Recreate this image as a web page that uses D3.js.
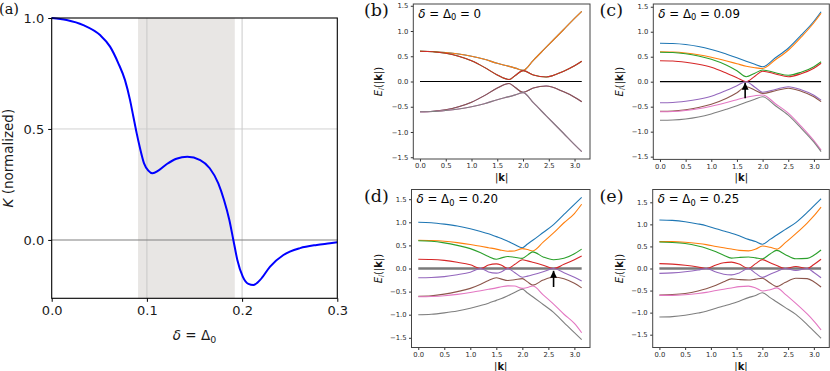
<!DOCTYPE html>
<html>
<head>
<meta charset="utf-8">
<script src="https://cdn.jsdelivr.net/npm/d3@7"></script>
<style>
  body { margin: 0; background: #fff; }
  svg { display: block; font-family: "DejaVu Sans", sans-serif; }
</style>
</head>
<body>
<svg id="fig" width="830" height="371"></svg>
<script>
// ---- (a) K(delta), normalized
const deltaA = [0, 0.0157, 0.0332, 0.0508, 0.0613, 0.070, 0.077, 0.0823, 0.0858, 0.0893, 0.0928, 0.097,
  0.1015, 0.106, 0.112, 0.121, 0.131, 0.1425, 0.156, 0.166, 0.175, 0.181, 0.1866, 0.1908, 0.195,
  0.2007, 0.2066, 0.2119, 0.219, 0.2294, 0.2434, 0.2609, 0.2785, 0.2924, 0.3];
const kappaA = [1.0, 0.991, 0.968, 0.923, 0.871, 0.796, 0.72, 0.63, 0.555, 0.48, 0.413, 0.345,
  0.312, 0.30, 0.312, 0.342, 0.366, 0.375, 0.36, 0.323, 0.255, 0.18, 0.09, 0.0, -0.09,
  -0.165, -0.198, -0.203, -0.18, -0.12, -0.068, -0.037, -0.0225, -0.015, -0.0105];
const shadeA = [0.0907, 0.1923];

// ---- band energies E_i(|k|), bands listed from top (blue) to bottom (grey)
// (b) delta = 0 : bands are pairwise degenerate
const kB = [0, 0.25, 0.5, 0.75, 1.0, 1.25, 1.5, 1.73, 1.85, 2.0, 2.2, 2.45, 2.78, 3.0, 3.14];
const bUp1 = [0.60, 0.595, 0.575, 0.545, 0.50, 0.44, 0.36, 0.30, 0.265, 0.22, 0.42, 0.68, 1.02, 1.25, 1.39];
const bUp2 = [0.60, 0.59, 0.56, 0.50, 0.41, 0.28, 0.13, 0.04, 0.12, 0.215, 0.13, 0.09, 0.20, 0.31, 0.40];
const bLo2 = [-0.60, -0.59, -0.56, -0.50, -0.41, -0.28, -0.13, -0.04, -0.12, -0.215, -0.13, -0.09, -0.20, -0.31, -0.40];
const bLo1 = [-0.60, -0.595, -0.575, -0.545, -0.50, -0.44, -0.36, -0.30, -0.265, -0.22, -0.42, -0.68, -1.02, -1.25, -1.39];

// (c) delta = 0.09
const kC = [0, 0.25, 0.5, 0.75, 1.0, 1.3, 1.5, 1.68, 1.85, 2.0, 2.25, 2.5, 2.75, 3.0, 3.14];
const cBlue   = [0.77, 0.765, 0.745, 0.705, 0.645, 0.55, 0.48, 0.41, 0.35, 0.30, 0.48, 0.67, 0.93, 1.21, 1.40];
const cOrange = [0.60, 0.595, 0.575, 0.54, 0.49, 0.415, 0.36, 0.31, 0.28, 0.265, 0.44, 0.63, 0.89, 1.18, 1.37];
const cGreen  = [0.59, 0.585, 0.56, 0.515, 0.45, 0.33, 0.22, 0.10, 0.17, 0.235, 0.18, 0.13, 0.19, 0.30, 0.40];
const cRed    = [0.42, 0.415, 0.39, 0.35, 0.29, 0.17, 0.08, 0.0, 0.11, 0.21, 0.155, 0.10, 0.16, 0.27, 0.37];
const cPurple = [-0.42, -0.415, -0.39, -0.35, -0.29, -0.17, -0.08, 0.0, -0.11, -0.21, -0.155, -0.10, -0.16, -0.27, -0.37];
const cBrown  = [-0.59, -0.585, -0.56, -0.515, -0.45, -0.33, -0.22, -0.10, -0.17, -0.235, -0.18, -0.13, -0.19, -0.30, -0.40];
const cPink   = [-0.60, -0.595, -0.575, -0.54, -0.49, -0.415, -0.36, -0.31, -0.28, -0.265, -0.44, -0.63, -0.89, -1.18, -1.37];
const cGrey   = [-0.77, -0.765, -0.745, -0.705, -0.645, -0.55, -0.48, -0.41, -0.35, -0.30, -0.48, -0.67, -0.93, -1.21, -1.40];

// (d) delta = 0.20
const kD = [0, 0.25, 0.5, 0.75, 1.0, 1.2, 1.35, 1.5, 1.6, 1.72, 1.85, 2.0, 2.1, 2.2, 2.4, 2.6, 2.8, 3.0, 3.14];
const dBlue   = [1.00, 0.99, 0.96, 0.92, 0.86, 0.80, 0.75, 0.69, 0.65, 0.59, 0.52, 0.45, 0.53, 0.61, 0.78, 0.95, 1.17, 1.39, 1.54];
const dOrange = [0.61, 0.605, 0.59, 0.56, 0.52, 0.48, 0.45, 0.42, 0.395, 0.375, 0.38, 0.43, 0.41, 0.38, 0.57, 0.77, 0.99, 1.19, 1.39];
const dGreen  = [0.60, 0.59, 0.555, 0.50, 0.43, 0.34, 0.26, 0.20, 0.23, 0.26, 0.245, 0.22, 0.29, 0.36, 0.25, 0.19, 0.22, 0.32, 0.42];
const dRed    = [0.20, 0.195, 0.175, 0.135, 0.08, 0.0, 0.075, 0.10, 0.07, 0.0, 0.085, 0.19, 0.165, 0.135, 0.07, 0.0, 0.09, 0.19, 0.27];
const dPurple = [-0.20, -0.195, -0.175, -0.135, -0.08, 0.0, -0.075, -0.10, -0.07, 0.0, -0.085, -0.19, -0.165, -0.135, -0.07, 0.0, -0.09, -0.19, -0.27];
const dBrown  = [-0.60, -0.59, -0.555, -0.50, -0.43, -0.34, -0.26, -0.20, -0.23, -0.26, -0.245, -0.22, -0.29, -0.36, -0.25, -0.19, -0.22, -0.32, -0.42];
const dPink   = [-0.61, -0.605, -0.59, -0.56, -0.52, -0.48, -0.45, -0.42, -0.395, -0.375, -0.38, -0.43, -0.41, -0.38, -0.57, -0.77, -0.99, -1.19, -1.39];
const dGrey   = [-1.00, -0.99, -0.96, -0.92, -0.86, -0.80, -0.75, -0.69, -0.65, -0.59, -0.52, -0.45, -0.53, -0.61, -0.78, -0.95, -1.17, -1.39, -1.54];

// (e) delta = 0.25
const kE = [0, 0.25, 0.5, 0.75, 0.91, 1.1, 1.25, 1.4, 1.55, 1.73, 1.87, 2.0, 2.15, 2.28, 2.44, 2.65, 2.87, 3.0, 3.14];
const eBlue   = [1.10, 1.09, 1.06, 1.01, 0.97, 0.90, 0.85, 0.80, 0.74, 0.66, 0.61, 0.55, 0.66, 0.76, 0.88, 1.04, 1.27, 1.42, 1.58];
const eOrange = [0.61, 0.61, 0.595, 0.565, 0.54, 0.50, 0.47, 0.44, 0.41, 0.40, 0.44, 0.51, 0.48, 0.44, 0.58, 0.79, 1.03, 1.19, 1.39];
const eGreen  = [0.60, 0.59, 0.565, 0.51, 0.46, 0.38, 0.30, 0.235, 0.25, 0.26, 0.24, 0.22, 0.33, 0.41, 0.32, 0.22, 0.23, 0.30, 0.42];
const eRed    = [0.11, 0.10, 0.075, 0.035, 0.0, 0.08, 0.13, 0.145, 0.10, 0.0, 0.11, 0.20, 0.13, 0.07, 0.0, 0.045, 0.0, 0.09, 0.21];
const ePurple = [-0.11, -0.10, -0.075, -0.035, 0.0, -0.08, -0.13, -0.145, -0.10, 0.0, -0.11, -0.20, -0.13, -0.07, 0.0, -0.045, 0.0, -0.09, -0.21];
const eBrown  = [-0.60, -0.59, -0.565, -0.51, -0.46, -0.38, -0.30, -0.235, -0.25, -0.26, -0.24, -0.22, -0.33, -0.41, -0.32, -0.22, -0.23, -0.30, -0.42];
const ePink   = [-0.61, -0.61, -0.595, -0.565, -0.54, -0.50, -0.47, -0.44, -0.41, -0.40, -0.44, -0.51, -0.48, -0.44, -0.58, -0.79, -1.03, -1.19, -1.39];
const eGrey   = [-1.10, -1.09, -1.06, -1.01, -0.97, -0.90, -0.85, -0.80, -0.74, -0.66, -0.61, -0.55, -0.66, -0.76, -0.88, -1.04, -1.27, -1.42, -1.58];

const kTicks = [0, 0.5, 1.0, 1.5, 2.0, 2.5, 3.0];
const eTicks = [-1.5, -1.0, -0.5, 0, 0.5, 1.0, 1.5];
const titles = ['0', '0.09', '0.20', '0.25'];
const arrowC = [1.66, -0.33, -0.02];
const arrowD = [2.6, -0.40, -0.05];

const tab10 = ['#1f77b4', '#ff7f0e', '#2ca02c', '#d62728', '#9467bd', '#8c564b', '#e377c2', '#7f7f7f'];
const svg = d3.select('#fig');

svg.append('defs').append('marker')
  .attr('id', 'head')
  .attr('viewBox', '0 0 10 10')
  .attr('refX', 10).attr('refY', 5)
  .attr('markerUnits', 'userSpaceOnUse')
  .attr('markerWidth', 7).attr('markerHeight', 7)
  .attr('orient', 'auto')
  .append('path')
  .attr('d', 'M0,0 L10,5 L0,10 Z')
  .attr('fill', '#000');

// writes a run of styled pieces into a text node
function mathText(sel, parts, size) {
  parts.forEach(p => {
    const ts = sel.append('tspan').text(p.t);
    if (p.it) ts.attr('font-style', 'italic');
    if (p.bf) ts.attr('font-weight', 'bold');
    if (p.sub) ts.attr('font-size', size * 0.7).attr('dy', size * 0.22);
    if (p.up) ts.attr('dy', -size * 0.22);
  });
}

// ================= panel (a)
const ax = d3.scaleLinear().domain([0, 0.3]).range([51.7, 337.3]);
const ay = d3.scaleLinear().domain([-0.263, 1.0]).range([298.3, 18]);
const ga = svg.append('g');

ga.append('rect')
  .attr('x', ax(shadeA[0])).attr('y', ay(1.0))
  .attr('width', ax(shadeA[1]) - ax(shadeA[0]))
  .attr('height', ay(-0.263) - ay(1.0))
  .attr('fill', '#e8e6e4');

ga.selectAll('.vgrid').data([0.1, 0.2]).enter().append('line')
  .attr('x1', d => ax(d)).attr('x2', d => ax(d))
  .attr('y1', ay(1.0)).attr('y2', ay(-0.263))
  .attr('stroke', '#c4c4c4').attr('stroke-width', 0.9);
ga.append('line')
  .attr('x1', ax(0)).attr('x2', ax(0.3)).attr('y1', ay(0.5)).attr('y2', ay(0.5))
  .attr('stroke', '#cccccc').attr('stroke-width', 0.9);
ga.append('line')
  .attr('x1', ax(0)).attr('x2', ax(0.3)).attr('y1', ay(0)).attr('y2', ay(0))
  .attr('stroke', '#808080').attr('stroke-width', 1.1);

ga.append('path')
  .datum(deltaA.map((d, i) => [d, kappaA[i]]))
  .attr('fill', 'none')
  .attr('stroke', '#0000ff')
  .attr('stroke-width', 2)
  .attr('d', d3.line().x(d => ax(d[0])).y(d => ay(d[1])).curve(d3.curveMonotoneX));

const axA = ga.append('g')
  .attr('transform', 'translate(0,' + ay(-0.263) + ')')
  .call(d3.axisBottom(ax).tickValues([0, 0.1, 0.2, 0.3]).tickFormat(d3.format('.1f')).tickSize(3.5).tickPadding(4));
const ayA = ga.append('g')
  .attr('transform', 'translate(' + ax(0) + ',0)')
  .call(d3.axisLeft(ay).tickValues([0, 0.5, 1.0]).tickFormat(d3.format('.1f')).tickSize(3.5).tickPadding(4));
[axA, ayA].forEach(s => {
  s.select('.domain').remove();
  s.selectAll('text').attr('font-family', '"DejaVu Sans"').attr('font-size', 13).attr('fill', '#1a1a1a');
  s.selectAll('line').attr('stroke', '#000');
});

ga.append('rect')
  .attr('x', ax(0)).attr('y', ay(1.0))
  .attr('width', ax(0.3) - ax(0)).attr('height', ay(-0.263) - ay(1.0))
  .attr('fill', 'none').attr('stroke', '#000').attr('stroke-width', 1.1);

const ylabA = ga.append('text')
  .attr('transform', 'translate(12.5,' + ((ay(1.0) + ay(-0.263)) / 2) + ') rotate(-90)')
  .attr('text-anchor', 'middle').attr('font-size', 13.5).attr('fill', '#1a1a1a');
mathText(ylabA, [{ t: 'K', it: true }, { t: ' (normalized)' }], 13.5);

const xlabA = ga.append('text')
  .attr('x', (ax(0) + ax(0.3)) / 2).attr('y', 340)
  .attr('text-anchor', 'middle').attr('font-size', 13.5).attr('fill', '#1a1a1a');
mathText(xlabA, [{ t: 'δ', it: true }, { t: ' = Δ' }, { t: '0', sub: true }], 13.5);

svg.append('text').attr('x', -1).attr('y', 14)
  .attr('font-family', '"DejaVu Serif", serif').attr('font-size', 14.5).attr('fill', '#111')
  .text('(a)');

// ================= panels (b)-(e)
const panels = [
  { tag: '(b)', box: [413.3, 590, 4, 159], ymax: 1.535, k: kB,
    bands: [bUp1, bUp1, bUp2, bUp2, bLo2, bLo2, bLo1, bLo1], title: titles[0], thickZero: false,
    lab: [364, 15.5], ylx: 381.5 },
  { tag: '(c)', box: [653.3, 829.3, 4, 159.4], ymax: 1.555, k: kC,
    bands: [cBlue, cOrange, cGreen, cRed, cPurple, cBrown, cPink, cGrey], title: titles[1], thickZero: false,
    lab: [599.5, 15.5], ylx: 623, arrow: arrowC },
  { tag: '(d)', box: [411.5, 590, 189.5, 347.5], ymax: 1.71, k: kD,
    bands: [dBlue, dOrange, dGreen, dRed, dPurple, dBrown, dPink, dGrey], title: titles[2], thickZero: true,
    lab: [364, 201.5], ylx: 381.5, arrow: arrowD },
  { tag: '(e)', box: [652.7, 829.3, 189.5, 347.5], ymax: 1.79, k: kE,
    bands: [eBlue, eOrange, eGreen, eRed, ePurple, eBrown, ePink, eGrey], title: titles[3], thickZero: true,
    lab: [599.5, 201.5], ylx: 623 }
];

panels.forEach(p => {
  const [l, r, t, b] = p.box;
  const x = d3.scaleLinear().domain([-0.13, 3.30]).range([l, r]);
  const y = d3.scaleLinear().domain([-p.ymax, p.ymax]).range([b, t]);
  const g = svg.append('g');

  g.append('line')
    .attr('x1', x(0)).attr('x2', x(3.14)).attr('y1', y(0)).attr('y2', y(0))
    .attr('stroke', p.thickZero ? '#7a7a7a' : '#000')
    .attr('stroke-width', p.thickZero ? 2.6 : 1.2);

  const line = d3.line()
    .x((d, i) => x(p.k[i]))
    .y(d => y(d))
    .curve(d3.curveMonotoneX);

  g.selectAll('.band')
    .data(p.bands)
    .enter()
    .append('path')
    .attr('fill', 'none')
    .attr('stroke', (d, i) => tab10[i])
    .attr('stroke-width', 1.1)
    .attr('d', line);

  const gx = g.append('g')
    .attr('transform', 'translate(0,' + b + ')')
    .call(d3.axisBottom(x).tickValues(kTicks).tickFormat(d3.format('.1f')).tickSize(2.5).tickPadding(2));
  const gy = g.append('g')
    .attr('transform', 'translate(' + l + ',0)')
    .call(d3.axisLeft(y).tickValues(eTicks).tickFormat(d3.format('.1f')).tickSize(2.5).tickPadding(2.5));
  [gx, gy].forEach(s => {
    s.select('.domain').remove();
    s.selectAll('text').attr('font-family', '"DejaVu Sans"').attr('font-size', 6.8).attr('fill', '#2a2a2a');
    s.selectAll('line').attr('stroke', '#333');
  });

  g.append('rect')
    .attr('x', l).attr('y', t).attr('width', r - l).attr('height', b - t)
    .attr('fill', 'none').attr('stroke', '#444').attr('stroke-width', 1);

  const tt = g.append('text')
    .attr('x', l + 5).attr('y', t + 13.5)
    .attr('font-size', 11.8).attr('fill', '#000');
  mathText(tt, [{ t: 'δ', it: true }, { t: ' = Δ' }, { t: '0', sub: true }, { t: ' = ' + p.title, up: true }], 11.8);

  const xl = g.append('text')
    .attr('x', (l + r) / 2).attr('y', b + 22)
    .attr('text-anchor', 'middle').attr('font-size', 10).attr('fill', '#111');
  mathText(xl, [{ t: '|' }, { t: 'k', bf: true }, { t: '|' }], 10);

  const yl = g.append('text')
    .attr('transform', 'translate(' + p.ylx + ',' + y(0) + ') rotate(-90)')
    .attr('text-anchor', 'middle').attr('font-size', 10).attr('fill', '#111');
  mathText(yl, [{ t: 'E', it: true }, { t: 'i', it: true, sub: true }, { t: '(|', up: true }, { t: 'k', bf: true }, { t: '|)' }], 10);

  if (p.arrow) {
    g.append('line')
      .attr('x1', x(p.arrow[0])).attr('x2', x(p.arrow[0]))
      .attr('y1', y(p.arrow[1])).attr('y2', y(p.arrow[2]))
      .attr('stroke', '#000').attr('stroke-width', 1.6)
      .attr('marker-end', 'url(#head)');
  }

  svg.append('text').attr('x', p.lab[0]).attr('y', p.lab[1])
    .attr('font-family', '"DejaVu Serif", serif').attr('font-size', 17.5).attr('fill', '#111')
    .text(p.tag);
});
</script>
</body>
</html>
